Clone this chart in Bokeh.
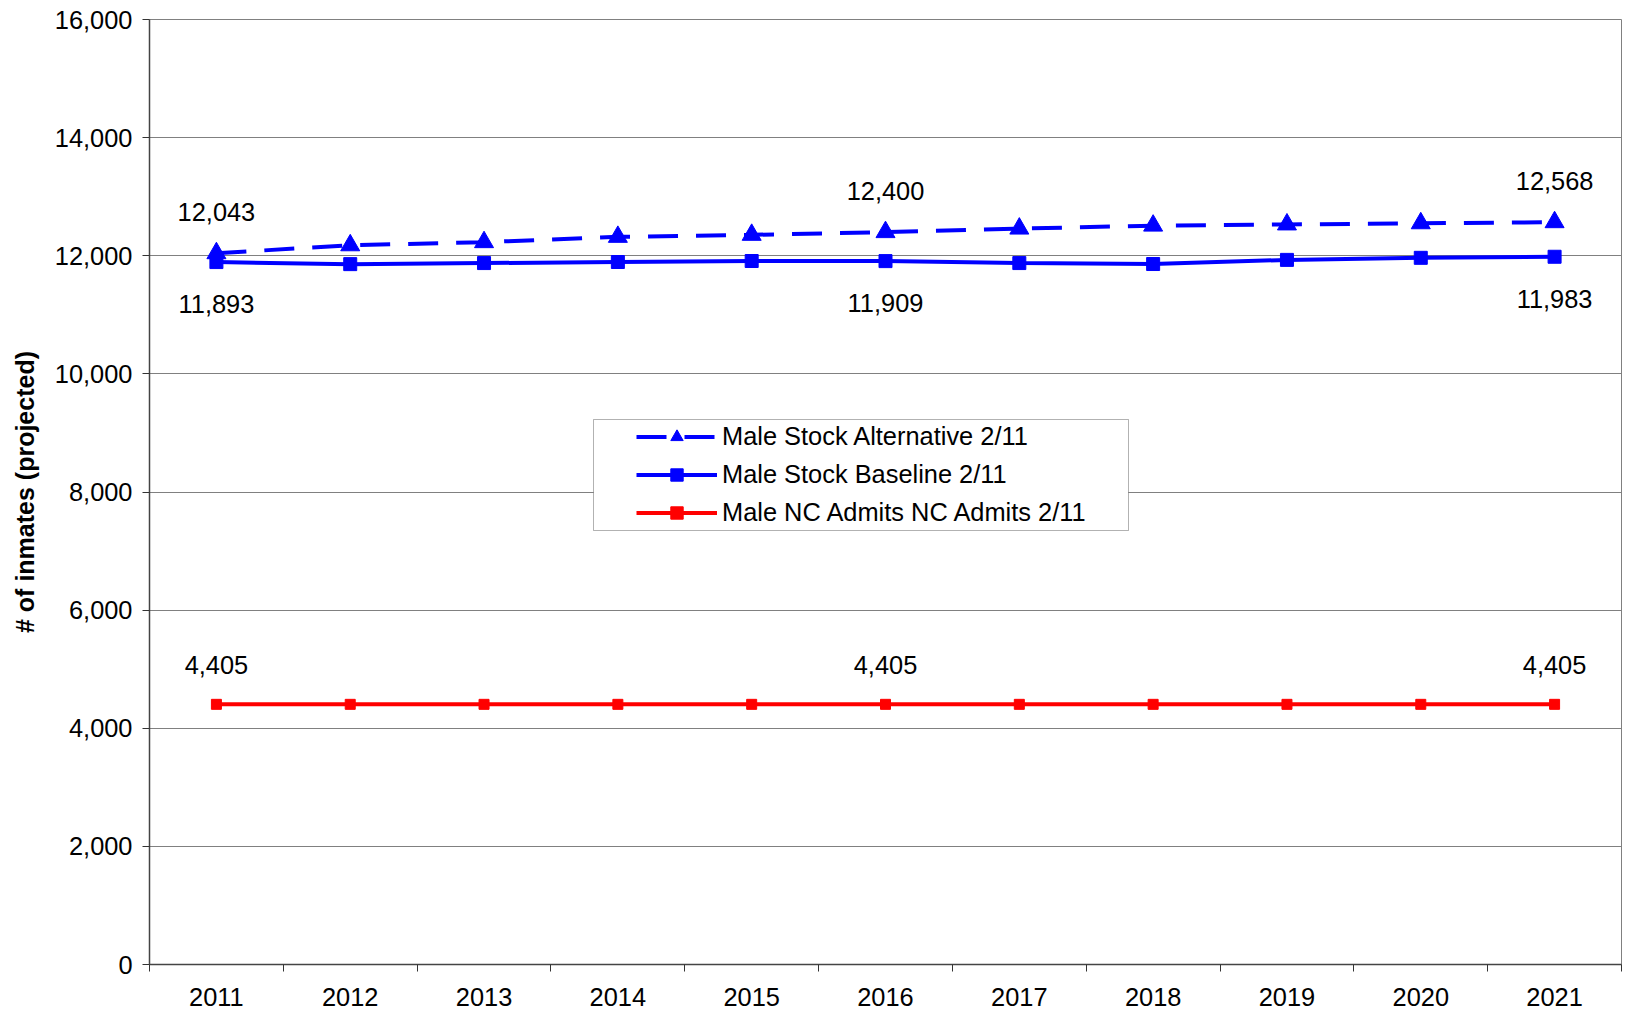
from bokeh.plotting import figure
from bokeh.models import (Range1d, FixedTicker, NumeralTickFormatter, Legend, LegendItem,
                          BoxAnnotation, Node)
from bokeh.core.properties import value
from bokeh.embed import file_html
from bokeh.resources import INLINE

years = [2011, 2012, 2013, 2014, 2015, 2016, 2017, 2018, 2019, 2020, 2021]
alternative = [12043, 12177, 12230, 12320, 12354, 12400, 12460, 12510, 12530, 12550, 12568]
baseline = [11893, 11858, 11876, 11894, 11911, 11909, 11876, 11860, 11930, 11965, 11983]
nc_admits = [4405, 4405, 4405, 4405, 4405, 4405, 4405, 4405, 4405, 4405, 4405]
label_years = [2011, 2016, 2021]
y_ticks = [0, 2000, 4000, 6000, 8000, 10000, 12000, 14000, 16000]

names = ["Male Stock Alternative 2/11", "Male Stock Baseline 2/11", "Male NC Admits NC Admits 2/11"]
y_title = "# of inmates (projected)"

FONT = "Liberation Sans"
FS = "25.4px"
BLUE = "#0000FF"
RED = "#FF0000"

p = figure(width=1622, height=1015, output_backend="svg", toolbar_location=None,
           x_range=Range1d(years[0] - 0.5, years[-1] + 0.5),
           y_range=Range1d(y_ticks[0], y_ticks[-1]),
           min_border_left=149, min_border_right=1, min_border_top=19, min_border_bottom=51)
p.background_fill_color = "white"
p.border_fill_color = "white"
p.outline_line_color = "#808080"

p.xgrid.visible = False
p.ygrid.grid_line_color = "#808080"
p.ygrid.grid_line_width = 1

# x axis: labels at year centres, ticks between categories
bounds = [y - 0.5 for y in years] + [years[-1] + 0.5]
p.xaxis.ticker = FixedTicker(ticks=years, minor_ticks=bounds)
p.xaxis.major_tick_out = 0
p.xaxis.major_tick_in = 0
p.xaxis.minor_tick_out = 7
p.xaxis.minor_tick_in = 0
p.xaxis.minor_tick_line_color = "#333333"
p.xaxis.major_label_standoff = 16

p.yaxis.ticker = FixedTicker(ticks=y_ticks)
p.yaxis.formatter = NumeralTickFormatter(format="0,0")
p.yaxis.major_tick_out = 7
p.yaxis.major_tick_in = 0
p.yaxis.minor_tick_line_color = None
p.yaxis.major_label_standoff = 10
p.yaxis.axis_label = y_title
p.yaxis.axis_label_text_font = FONT
p.yaxis.axis_label_text_font_style = "bold"
p.yaxis.axis_label_text_font_size = "25px"
p.yaxis.axis_label_text_color = "black"
p.yaxis.axis_label_standoff = 13

for ax in (p.xaxis[0], p.yaxis[0]):
    ax.axis_line_color = "#444444"
    ax.axis_line_width = 1.5
    ax.major_tick_line_color = "#333333"
    ax.major_label_text_font = FONT
    ax.major_label_text_font_size = FS
    ax.major_label_text_color = "black"

l1 = p.line(years, alternative, line_color=BLUE, line_width=4, line_dash="30 18")
m1 = p.scatter(years, alternative, marker="triangle", size=19, fill_color=BLUE, line_color=BLUE)
l2 = p.line(years, baseline, line_color=BLUE, line_width=4)
m2 = p.scatter(years, baseline, marker="square", size=13, fill_color=BLUE, line_color=BLUE)
l3 = p.line(years, nc_admits, line_color=RED, line_width=4)
m3 = p.scatter(years, nc_admits, marker="square", size=10, fill_color=RED, line_color=RED)

def lab(series, offset):
    vals = [series[years.index(y)] for y in label_years]
    p.text(x=label_years, y=vals, text=[f"{v:,}" for v in vals], y_offset=offset,
           text_align="center", text_baseline="middle", text_color="black",
           text_font=value(FONT), text_font_size=FS)

lab(alternative, -41)
lab(baseline, 42)
lab(nc_admits, -39)

box = BoxAnnotation(left=Node(target="frame", symbol="left", offset=444),
                    right=Node(target="frame", symbol="left", offset=979),
                    top=Node(target="frame", symbol="top", offset=400),
                    bottom=Node(target="frame", symbol="top", offset=511),
                    fill_color="white", fill_alpha=1.0, line_color="black", line_width=1)
p.add_layout(box)

legend = Legend(items=[LegendItem(label=names[0], renderers=[l1, m1]),
                       LegendItem(label=names[1], renderers=[l2, m2]),
                       LegendItem(label=names[2], renderers=[l3, m3])],
                location=(487, 436), orientation="vertical",
                padding=0, margin=0, spacing=7, glyph_width=81, glyph_height=31,
                label_height=31, label_standoff=5,
                border_line_alpha=0, background_fill_alpha=0,
                label_text_font=FONT, label_text_font_size=FS, label_text_color="black")
p.add_layout(legend, "center")

open("out.html", "w").write(file_html(p, INLINE))
